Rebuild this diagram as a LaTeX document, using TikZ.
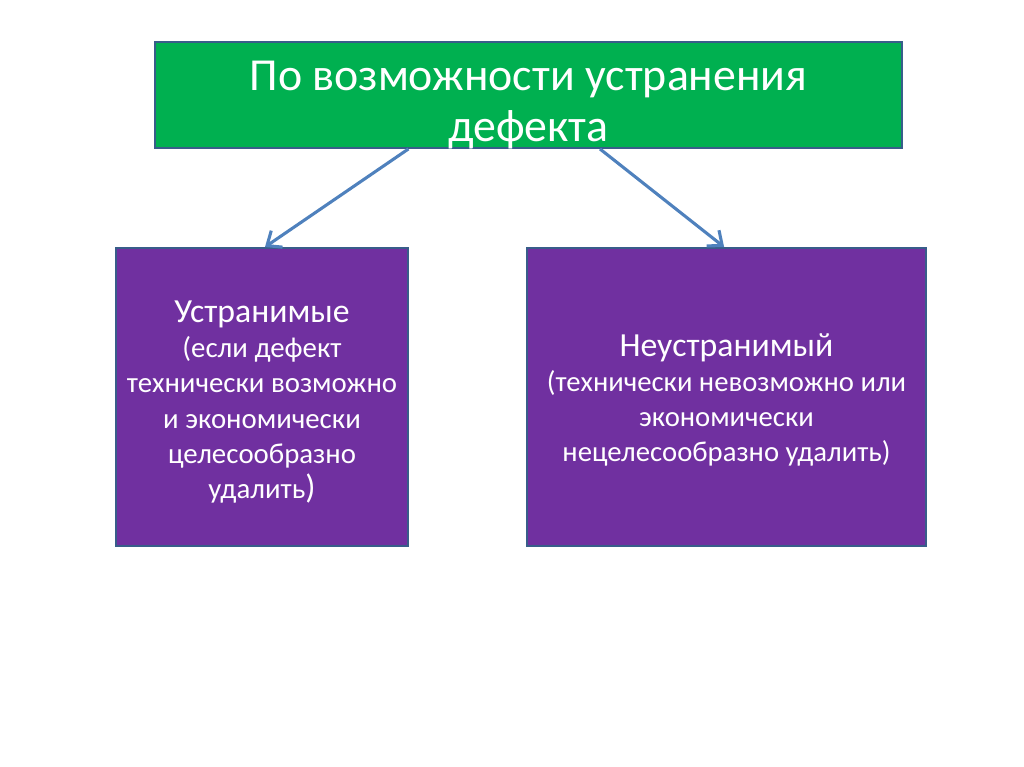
\documentclass[tikz,border=0pt]{standalone}
\usepackage{fontspec}
\setmainfont{Carlito}
\usetikzlibrary{arrows.meta,positioning}
\definecolor{Gr}{RGB}{0, 176, 80}
\definecolor{Pu}{RGB}{112, 48, 160}
\definecolor{Bd}{RGB}{56, 93, 138}
\definecolor{Ar}{RGB}{79, 129, 189}

\tikzset{
  box/.style={draw=Bd, line width=1.4pt, align=center, text=white, inner sep=0pt},
  arr/.style={draw=Ar, line width=2.2pt, -{Straight Barb[length=3mm, width=5mm]}}
}

\begin{document}
\begin{tikzpicture}
  \useasboundingbox (0,0) rectangle (25.6,-19.175);
  \node[box, fill=Gr, minimum width=18.675cm, minimum height=2.65cm] (title) at (13.21,-2.375) {};
  \node[align=center, text=white, font=\fontsize{32.6}{36}\selectfont] (titletext) at (13.21,-2.63)
        {По возможности устранения\\дефекта};
  \node[box, fill=Pu, minimum width=7.3cm, minimum height=7.45cm] (left) at (6.55,-9.925) {};
  \node[align=center, text=white, font=\fontsize{20.5}{25}\selectfont] (lefttext) at (6.55,-10.05)
        {{\fontsize{24}{28}\selectfont Устранимые}\\(если дефект\\технически возможно\\и экономически\\целесообразно\\удалить{\fontsize{24}{25}\selectfont )}};
  \node[box, fill=Pu, minimum width=9.975cm, minimum height=7.45cm] (right) at (18.1625,-9.925) {};
  \node[align=center, text=white, font=\fontsize{20.4}{25}\selectfont] (righttext) at (18.1625,-10.0)
        {{\fontsize{24}{28}\selectfont Неустранимый}\\(технически невозможно или\\экономически\\нецелесообразно удалить)};
  \draw[arr] ([xshift=-3.0cm]title.south) -- ([xshift=0.075cm]left.north);
  \draw[arr] ([xshift=1.79cm]title.south) -- ([xshift=-0.06cm]right.north);
\end{tikzpicture}
\end{document}
